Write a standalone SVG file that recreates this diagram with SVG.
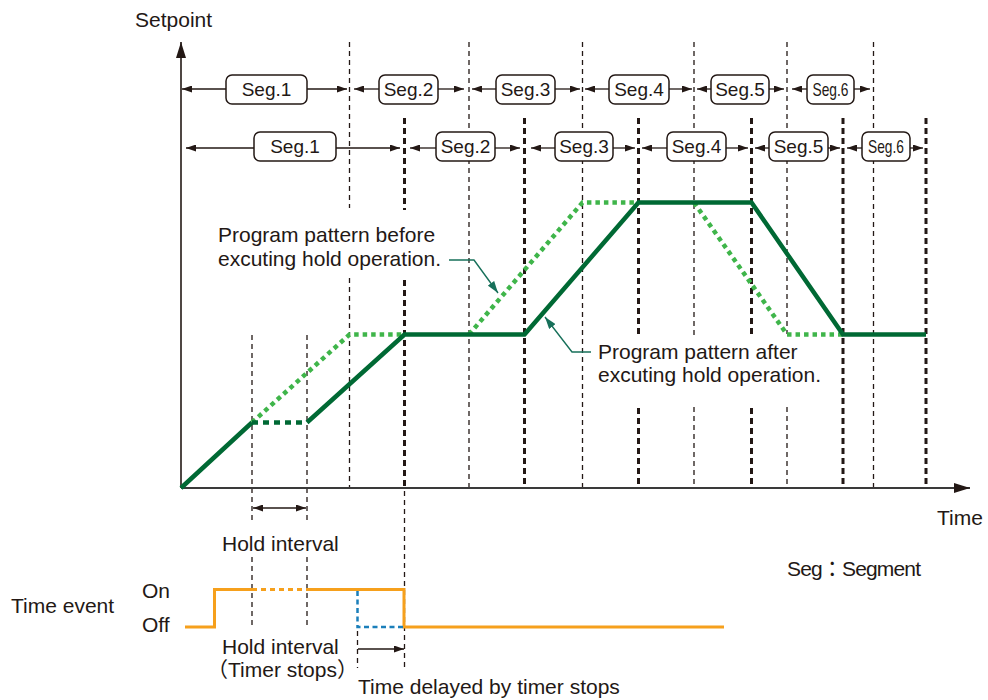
<svg xmlns="http://www.w3.org/2000/svg" width="988" height="700" viewBox="0 0 988 700">
<style>
  text { font-family: "Liberation Sans", Arial, "Noto Sans CJK JP", sans-serif; fill: #231815; }
  .lbl { font-size: 21px; }
  .seg { font-size: 19px; text-anchor: middle; }
  .box { fill: #fff; stroke: #231815; stroke-width: 1.5; }
  .arr { stroke: #231815; stroke-width: 1.3; fill: none; marker-end: url(#ah); }
  .thin { stroke: #231815; stroke-width: 1.3; stroke-dasharray: 5 4; fill: none; }
  .thick { stroke: #231815; stroke-width: 3; stroke-dasharray: 6 4; fill: none; }
  .dk { stroke: #006934; stroke-width: 4.5; fill: none; stroke-linejoin: miter; }
  .dkd { stroke: #006934; stroke-width: 4.5; fill: none; stroke-dasharray: 6 5; }
  .lt { stroke: #3fb54a; stroke-width: 4.5; fill: none; stroke-dasharray: 4.5 4; }
  .or { stroke: #f6a01c; stroke-width: 3; fill: none; }
  .ord { stroke: #f6a01c; stroke-width: 3; fill: none; stroke-dasharray: 5 4; }
  .bl { stroke: #1b7fba; stroke-width: 2.5; fill: none; stroke-dasharray: 5 3.5; }
  .lead { stroke: #17705a; stroke-width: 1.4; fill: none; marker-end: url(#lh); }
</style>
<defs>
  <marker id="ah" markerUnits="userSpaceOnUse" markerWidth="10" markerHeight="7" refX="10" refY="3.5" orient="auto">
    <path d="M0,0 L10,3.5 L0,7 z" fill="#231815"/>
  </marker>
  <marker id="ah2" markerUnits="userSpaceOnUse" markerWidth="10" markerHeight="7" refX="10" refY="3.5" orient="auto-start-reverse">
    <path d="M0,0 L10,3.5 L0,7 z" fill="#231815"/>
  </marker>
  <marker id="axh" markerUnits="userSpaceOnUse" markerWidth="16" markerHeight="10" refX="16" refY="5" orient="auto">
    <path d="M0,0 L16,5 L0,10 z" fill="#231815"/>
  </marker>
  <marker id="lh" markerUnits="userSpaceOnUse" markerWidth="12" markerHeight="8" refX="12" refY="4" orient="auto">
    <path d="M0,0 L12,4 L0,8 z" fill="#17705a"/>
  </marker>
</defs>
<rect width="988" height="700" fill="#fff"/>

<g id="gridlines">
  <path class="thin" d="M349.5 42 V208 M349.5 278 V488 M469 42 V488 M582.5 42 V488 M694 42 V336 M694 407 V488 M787 42 V334 M787 407 V488 M873.5 42 V488"/>
  <path class="thick" d="M404.5 118 V210 M404.5 280 V488 M524.5 118 V488 M638.5 118 V336 M638.5 408 V488 M751.5 118 V336 M751.5 408 V488 M843 118 V488 M926 118 V488"/>
  <path class="thin" d="M404.5 491 V668 M252 335 V522 M252 557 V627 M307 335 V522 M307 557 V627 M357.5 631 V668"/>
</g>

<g id="axes">
  <line x1="181" y1="488" x2="181" y2="42" stroke="#231815" stroke-width="1.6" marker-end="url(#axh)"/>
  <line x1="181" y1="488" x2="970" y2="488" stroke="#3a3a3a" stroke-width="2" marker-end="url(#axh)"/>
  <text class="lbl" x="135" y="27">Setpoint</text>
  <text class="lbl" x="937" y="525">Time</text>
</g>

<g id="connectors">
  <!-- row 1 -->
  <line class="arr" x1="226" y1="89" x2="182" y2="89"/>
  <line class="arr" x1="307" y1="89" x2="347" y2="89"/>
  <line class="arr" x1="379" y1="89" x2="354" y2="89"/>
  <line class="arr" x1="438" y1="89" x2="464" y2="89"/>
  <line class="arr" x1="496" y1="89" x2="472" y2="89"/>
  <line class="arr" x1="555" y1="89" x2="580" y2="89"/>
  <line class="arr" x1="609" y1="89" x2="585" y2="89"/>
  <line class="arr" x1="669" y1="89" x2="692" y2="89"/>
  <line class="arr" x1="711" y1="89" x2="697" y2="89"/>
  <line class="arr" x1="769" y1="89" x2="784" y2="89"/>
  <line class="arr" x1="807" y1="89" x2="792" y2="89"/>
  <line class="arr" x1="854" y1="89" x2="870" y2="89"/>
  <!-- row 2 -->
  <line class="arr" x1="254" y1="148" x2="186" y2="148"/>
  <line class="arr" x1="336" y1="148" x2="400" y2="148"/>
  <line class="arr" x1="436" y1="148" x2="410" y2="148"/>
  <line class="arr" x1="495" y1="148" x2="520" y2="148"/>
  <line class="arr" x1="555" y1="148" x2="531" y2="148"/>
  <line class="arr" x1="613" y1="148" x2="635" y2="148"/>
  <line class="arr" x1="667" y1="148" x2="642" y2="148"/>
  <line class="arr" x1="726" y1="148" x2="748" y2="148"/>
  <line class="arr" x1="769" y1="148" x2="755" y2="148"/>
  <line class="arr" x1="828" y1="148" x2="840" y2="148"/>
  <line class="arr" x1="862" y1="148" x2="847" y2="148"/>
  <line class="arr" x1="910" y1="148" x2="923" y2="148"/>
  <!-- hold interval / delay arrows -->
  <line x1="253" y1="508" x2="306" y2="508" stroke="#231815" stroke-width="1.3" marker-start="url(#ah2)" marker-end="url(#ah2)"/>
  <line class="arr" x1="358" y1="649" x2="404" y2="649"/>
  <!-- leaders -->
  <path class="lead" d="M449 260 H474 L498 293"/>
  <path class="lead" d="M591 352 H572 L545 317"/>
</g>

<g id="seg-row1">
  <g id="r1s1"><rect class="box" x="226" y="75" width="81" height="29" rx="6"/><text class="seg" x="266.5" y="96">Seg.1</text></g>
  <g id="r1s2"><rect class="box" x="379" y="75" width="59" height="29" rx="6"/><text class="seg" x="408.5" y="96">Seg.2</text></g>
  <g id="r1s3"><rect class="box" x="496" y="75" width="59" height="29" rx="6"/><text class="seg" x="525.5" y="96">Seg.3</text></g>
  <g id="r1s4"><rect class="box" x="609" y="75" width="60" height="29" rx="6"/><text class="seg" x="639" y="96">Seg.4</text></g>
  <g id="r1s5"><rect class="box" x="711" y="75" width="58" height="29" rx="6"/><text class="seg" x="740" y="96">Seg.5</text></g>
  <g id="r1s6"><rect class="box" x="807" y="75" width="47" height="29" rx="6"/><text class="seg" x="830.5" y="96" textLength="36" lengthAdjust="spacingAndGlyphs">Seg.6</text></g>
</g>

<g id="seg-row2">
  <g id="r2s1"><rect class="box" x="254" y="132" width="82" height="29" rx="6"/><text class="seg" x="295" y="153">Seg.1</text></g>
  <g id="r2s2"><rect class="box" x="436" y="132" width="59" height="29" rx="6"/><text class="seg" x="465.5" y="153">Seg.2</text></g>
  <g id="r2s3"><rect class="box" x="555" y="132" width="58" height="29" rx="6"/><text class="seg" x="584" y="153">Seg.3</text></g>
  <g id="r2s4"><rect class="box" x="667" y="132" width="59" height="29" rx="6"/><text class="seg" x="696.5" y="153">Seg.4</text></g>
  <g id="r2s5"><rect class="box" x="769" y="132" width="59" height="29" rx="6"/><text class="seg" x="798.5" y="153">Seg.5</text></g>
  <g id="r2s6"><rect class="box" x="862" y="132" width="48" height="29" rx="6"/><text class="seg" x="886" y="153" textLength="36" lengthAdjust="spacingAndGlyphs">Seg.6</text></g>
</g>

<g id="patterns">
  <path class="lt" d="M252 422.5 L349.5 334.5 H404.5 M469 334.5 L582.5 202.5 H638.5 M694 202.5 L787 334.5 H843"/>
  <path class="dkd" d="M252 422.5 H307"/>
  <path class="dk" d="M181 488 L252 422.5 M307 422.5 L404.5 334.5 H524.5 L638.5 202.5 H751.5 L843 334.5 H926"/>
</g>

<g id="label-before">
  <text class="lbl" x="218" y="242">Program pattern before</text>
  <text class="lbl" x="218" y="266">excuting hold operation.</text>
</g>
<g id="label-after">
  <text class="lbl" x="598" y="359">Program pattern after</text>
  <text class="lbl" x="598" y="382">excuting hold operation.</text>
</g>

<g id="time-event">
  <path class="or" d="M185 627 H214.5 V589.5 H252 M307 589.5 H404 V627 H724"/>
  <path class="ord" d="M252 589.5 H307"/>
  <path class="bl" d="M357.5 591 V627 H404"/>
  <text class="lbl" x="11" y="613">Time event</text>
  <text class="lbl" x="142" y="598">On</text>
  <text class="lbl" x="142" y="632">Off</text>
</g>

<g id="notes">
  <text class="lbl" x="222" y="551">Hold interval</text>
  <text class="lbl" x="222" y="654">Hold interval</text>
  <text class="lbl" x="207" y="677">（Timer stops）</text>
  <text class="lbl" x="358" y="694">Time delayed by timer stops</text>
  <text class="lbl" x="787" y="576" textLength="134" lengthAdjust="spacing">Seg：Segment</text>
</g>
</svg>
